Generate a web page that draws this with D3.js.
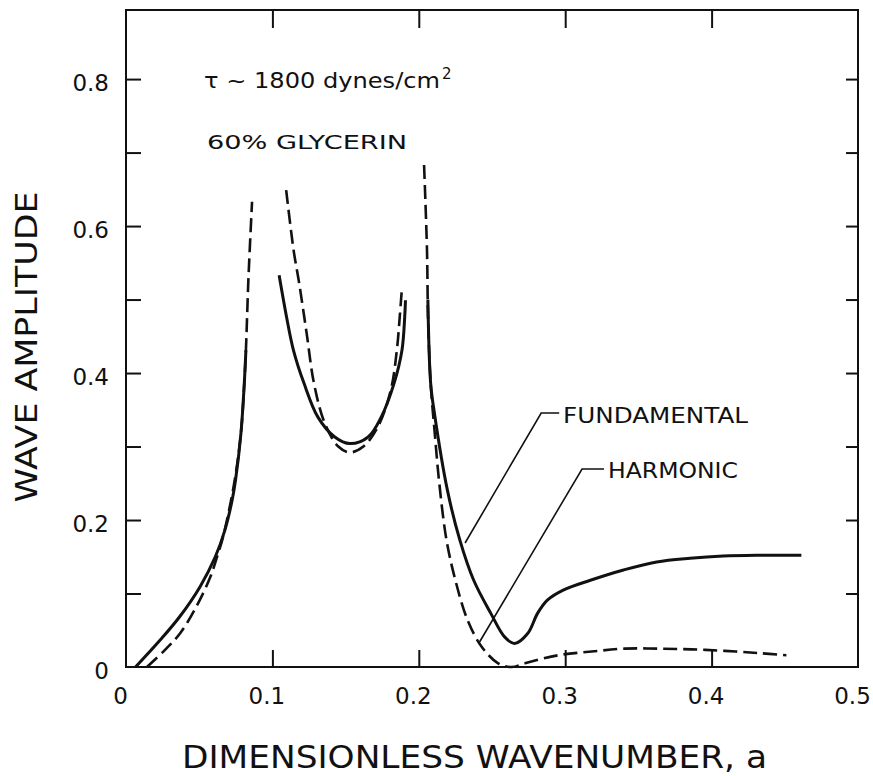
<!DOCTYPE html>
<html>
<head>
<meta charset="utf-8">
<script src="https://cdn.jsdelivr.net/npm/d3@7"></script>
<style>
  html, body { margin: 0; padding: 0; background: #fff; }
  svg { display: block; }
  text { font-family: "DejaVu Sans", "Liberation Sans", sans-serif; fill: #111; }
</style>
</head>
<body>
<svg id="chart" width="873" height="776"></svg>
<script>
// Wave amplitude vs dimensionless wavenumber a; each resonance branch is its own [a, amplitude] list.

// Fundamental (solid)
const fundamentalLow = [
  [0.0065, 0.000], [0.0235, 0.037], [0.0365, 0.068], [0.0505, 0.109],
  [0.0610, 0.150], [0.0675, 0.186], [0.0725, 0.227], [0.0748, 0.254],
  [0.0785, 0.318], [0.0808, 0.386], [0.0819, 0.431]
];
const fundamentalMid = [
  [0.1046, 0.533], [0.1096, 0.477], [0.1144, 0.431], [0.1216, 0.386],
  [0.1311, 0.340], [0.1426, 0.313], [0.1529, 0.304], [0.1654, 0.313],
  [0.1743, 0.340], [0.1831, 0.386], [0.1885, 0.431], [0.1904, 0.477],
  [0.1909, 0.499]
];
const fundamentalHigh = [
  [0.2062, 0.500], [0.2081, 0.386], [0.2107, 0.345], [0.2195, 0.241],
  [0.2280, 0.173], [0.2375, 0.118], [0.2492, 0.073], [0.2586, 0.041],
  [0.2654, 0.032], [0.2745, 0.046], [0.2811, 0.073], [0.2878, 0.091],
  [0.2990, 0.105], [0.3172, 0.118], [0.3398, 0.132], [0.3625, 0.143],
  [0.3853, 0.148], [0.4079, 0.151], [0.4306, 0.152], [0.4613, 0.152]
];

// Harmonic (dashed)
const harmonicLow = [
  [0.0143, 0.000], [0.0265, 0.023], [0.0370, 0.046], [0.0480, 0.082],
  [0.0575, 0.122], [0.0630, 0.155], [0.0663, 0.177], [0.0739, 0.250],
  [0.0785, 0.318], [0.0808, 0.386], [0.0819, 0.431], [0.0827, 0.476],
  [0.0835, 0.522], [0.0845, 0.567], [0.0861, 0.633]
];
const harmonicMid = [
  [0.1094, 0.649], [0.1145, 0.567], [0.1183, 0.522], [0.1234, 0.454],
  [0.1284, 0.386], [0.1357, 0.332], [0.1450, 0.300], [0.1530, 0.292],
  [0.1621, 0.300], [0.1721, 0.327], [0.1809, 0.377], [0.1850, 0.431],
  [0.1870, 0.477], [0.1883, 0.511]
];
const harmonicHigh = [
  [0.2036, 0.683], [0.2056, 0.567], [0.2063, 0.477], [0.2081, 0.386],
  [0.2109, 0.318], [0.2140, 0.250], [0.2189, 0.173], [0.2250, 0.118],
  [0.2333, 0.064], [0.2428, 0.028], [0.2542, 0.005], [0.2635, 0.000],
  [0.2725, 0.005], [0.2952, 0.016], [0.3180, 0.021], [0.3406, 0.025],
  [0.3634, 0.025], [0.3862, 0.024], [0.4090, 0.022], [0.4317, 0.019],
  [0.4511, 0.016]
];

// Axis ticks and labels
const xTickValues = [0, 0.1, 0.2, 0.3, 0.4, 0.5];
const xTickLabels = ["0", "0.1", "0.2", "0.3", "0.4", "0.5"];
const yTickValues = [0, 0.1, 0.2, 0.3, 0.4, 0.5, 0.6, 0.7, 0.8];
const yTickLabels = ["0", "", "0.2", "", "0.4", "", "0.6", "", "0.8"];
const yMax = 0.894;

// Leader lines from the curve names, [a, amplitude]
const fundamentalLeader = [[0.2959, 0.3456], [0.2836, 0.3456], [0.2316, 0.1687]];
const harmonicLeader = [[0.3265, 0.2694], [0.3115, 0.2694], [0.2415, 0.034]];

const svg = d3.select("#chart");
svg.append("rect").attr("width", 873).attr("height", 776).attr("fill", "#fff");

const x = d3.scaleLinear().domain([0, 0.5]).range([126, 858]);
const y = d3.scaleLinear().domain([0, yMax]).range([667, 10]);

// Frame
svg.append("rect")
  .attr("x", x(0)).attr("y", y(yMax))
  .attr("width", x(0.5) - x(0)).attr("height", y(0) - y(yMax))
  .attr("fill", "none").attr("stroke", "#111").attr("stroke-width", 2);

function styleAxis(g, labelSize) {
  g.select(".domain").remove();
  g.selectAll(".tick line").attr("stroke", "#111").attr("stroke-width", 2);
  g.selectAll(".tick text").attr("font-size", labelSize).attr("fill", "#111")
    .attr("font-family", "\"DejaVu Sans\", sans-serif");
}

// Left axis with labels
const yLeft = svg.append("g").attr("transform", `translate(${x(0)},0)`)
  .call(d3.axisLeft(y).tickValues(yTickValues)
    .tickFormat((d, i) => yTickLabels[i])
    .tickSizeInner(-15).tickSizeOuter(0).tickPadding(17));
styleAxis(yLeft, 23);
yLeft.selectAll(".tick text").attr("dy", "0.5em");
yLeft.selectAll(".tick").filter(d => d === 0).select("line").remove();

// Right axis, ticks only
const yRight = svg.append("g").attr("transform", `translate(${x(0.5)},0)`)
  .call(d3.axisRight(y).tickValues(yTickValues.slice(1))
    .tickFormat("").tickSizeInner(-12).tickSizeOuter(0));
styleAxis(yRight, 0);

// Bottom axis with labels
const xBottom = svg.append("g").attr("transform", `translate(0,${y(0)})`)
  .call(d3.axisBottom(x).tickValues(xTickValues)
    .tickFormat((d, i) => xTickLabels[i])
    .tickSizeInner(-17).tickSizeOuter(0).tickPadding(21));
styleAxis(xBottom, 23);
xBottom.selectAll(".tick text").attr("dx", "-6");
xBottom.selectAll(".tick").filter(d => d === 0 || d === 0.5).select("line").remove();

// Top axis, ticks only
const xTop = svg.append("g").attr("transform", `translate(0,${y(yMax)})`)
  .call(d3.axisTop(x).tickValues(xTickValues.slice(1, 5))
    .tickFormat("").tickSizeInner(-18).tickSizeOuter(0));
styleAxis(xTop, 0);

// Curves
const line = d3.line()
  .x(d => x(d[0])).y(d => y(d[1]))
  .curve(d3.curveCatmullRom.alpha(0.5));

const curves = svg.append("g").attr("fill", "none").attr("stroke", "#111")
  .attr("stroke-linecap", "butt").attr("stroke-linejoin", "round");

[fundamentalLow, fundamentalMid, fundamentalHigh].forEach(branch => {
  curves.append("path").attr("d", line(branch)).attr("stroke-width", 3);
});
[harmonicLow, harmonicMid, harmonicHigh].forEach(branch => {
  curves.append("path").attr("d", line(branch)).attr("stroke-width", 2.6)
    .attr("stroke-dasharray", "14,6");
});

// Curve names with leader lines
const leader = d3.line().x(d => x(d[0])).y(d => y(d[1]));
svg.append("path").attr("d", leader(fundamentalLeader))
  .attr("fill", "none").attr("stroke", "#111").attr("stroke-width", 1.6);
svg.append("path").attr("d", leader(harmonicLeader))
  .attr("fill", "none").attr("stroke", "#111").attr("stroke-width", 1.6);

svg.append("text").attr("x", 563).attr("y", 423)
  .attr("font-size", 22).attr("textLength", 185).attr("lengthAdjust", "spacingAndGlyphs")
  .text("FUNDAMENTAL");
svg.append("text").attr("x", 608).attr("y", 478)
  .attr("font-size", 21).attr("textLength", 130).attr("lengthAdjust", "spacingAndGlyphs")
  .text("HARMONIC");

// Conditions
svg.append("text").attr("x", 204).attr("y", 88)
  .attr("font-size", 22).attr("textLength", 236).attr("lengthAdjust", "spacingAndGlyphs")
  .text("τ ~ 1800 dynes/cm");
svg.append("text").attr("x", 442).attr("y", 79)
  .attr("font-size", 15).text("2");
svg.append("text").attr("x", 207).attr("y", 149)
  .attr("font-size", 20).attr("textLength", 200).attr("lengthAdjust", "spacingAndGlyphs")
  .text("60% GLYCERIN");

// Axis titles
svg.append("text").attr("x", 182).attr("y", 768)
  .attr("font-size", 32).attr("textLength", 585).attr("lengthAdjust", "spacingAndGlyphs")
  .text("DIMENSIONLESS WAVENUMBER, a");
svg.append("text").attr("transform", "translate(37,347) rotate(-90)")
  .attr("text-anchor", "middle")
  .attr("font-size", 30).attr("textLength", 311).attr("lengthAdjust", "spacingAndGlyphs")
  .text("WAVE AMPLITUDE");
</script>
</body>
</html>
